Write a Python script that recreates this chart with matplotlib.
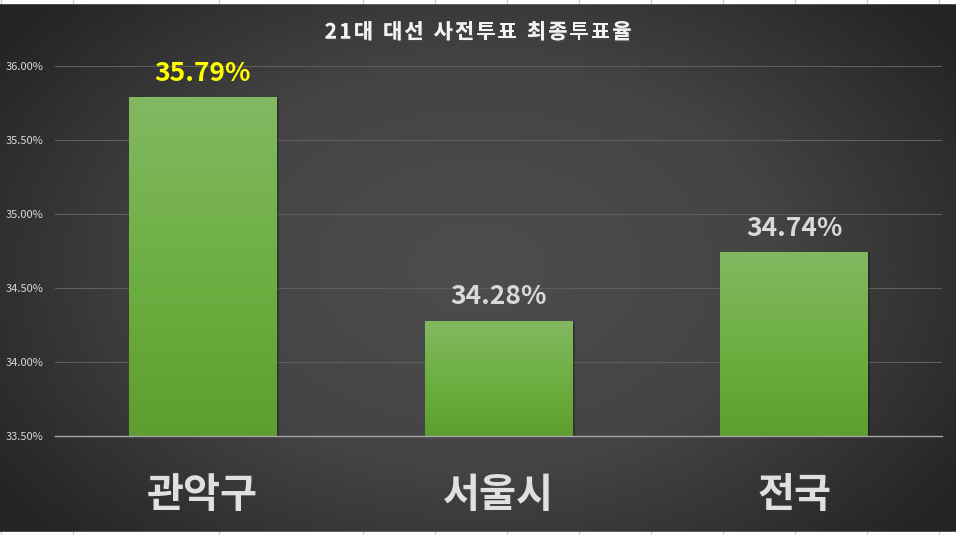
import numpy as np
import matplotlib
matplotlib.use('Agg')
import matplotlib.pyplot as plt
import matplotlib.patheffects as pe
from matplotlib.colors import LinearSegmentedColormap

plt.rcParams['font.family'] = ['Noto Sans CJK KR', 'DejaVu Sans']

# Data
categories = ['관악구', '서울시', '전국']
turnout = [35.79, 34.28, 34.74]
value_labels = ['35.79%', '34.28%', '34.74%']
label_colors = ['#ffff00', '#d9d9d9', '#d9d9d9']
y_ticks = [33.5, 34.0, 34.5, 35.0, 35.5, 36.0]
title = '21대 대선 사전투표 최종투표율'

W, H = 956, 535
fig = plt.figure(figsize=(W / 100, H / 100), dpi=100)

# radial gradient background
bg = fig.add_axes([0, 0, 1, 1])
yy, xx = np.mgrid[0:H, 0:W]
r = np.sqrt(((xx - W * 0.5) / (W * 0.62)) ** 2 + ((yy - H * 0.5) / (H * 0.75)) ** 2)
r = np.clip(r, 0, 1)
bg_cmap = LinearSegmentedColormap.from_list('bg', ['#4d4d4d', '#444444', '#232323'])
bg.imshow(r, cmap=bg_cmap, aspect='auto', extent=[0, W, H, 0], vmin=0, vmax=1)
bg.set_xlim(0, W)
bg.set_ylim(H, 0)
bg.axis('off')

# excel cell strips top and bottom
bg.add_patch(plt.Rectangle((0, 0), W, 3, color='white', zorder=3))
bg.add_patch(plt.Rectangle((0, 532), W, 3, color='white', zorder=3))
for cx in [1, 73, 219, 363, 435, 507, 579, 651, 723, 795, 867, 939]:
    bg.plot([cx, cx], [0, 3], color='#c8c8c8', lw=0.8, zorder=4)
    bg.plot([cx, cx], [532, 535], color='#c8c8c8', lw=0.8, zorder=4)

# main chart
ax = fig.add_axes([55 / W, (H - 436) / H, 887 / W, 370 / H])
ax.patch.set_alpha(0)
x = np.arange(len(categories))
bars = ax.bar(x, turnout, width=0.5, color='none', zorder=3)

green = LinearSegmentedColormap.from_list('g', ['#83b862', '#6eaf43', '#5e9e30'])
grad = np.linspace(0, 1, 256).reshape(-1, 1)
for b in bars:
    x0, w, h = b.get_x(), b.get_width(), b.get_height()
    # soft shadow
    ax.add_patch(plt.Rectangle((x0 + 0.008, 33.5), w, h - 33.5 - 0.005,
                               color='black', alpha=0.25, zorder=2, lw=0))
    im = ax.imshow(grad, cmap=green, aspect='auto',
                   extent=[x0, x0 + w, 33.5, h], zorder=3)
    im.set_clip_path(b)

ax.set_xlim(-0.5, 2.5)
ax.set_ylim(33.5, 36.0)
ax.set_yticks(y_ticks)
ax.set_yticklabels([f'{t:.2f}%' for t in y_ticks])
ax.tick_params(axis='y', length=0, pad=8, labelsize=8, labelcolor='#d9d9d9')
ax.set_xticks(x)
ax.set_xticklabels(categories)
ax.tick_params(axis='x', length=0, pad=28, labelsize=29, labelcolor='#e0e0e0')
for t in ax.get_xticklabels():
    t.set_fontweight('bold')
ax.grid(axis='y', color='#5e5e5e', lw=0.8, zorder=0)
for s in ['top', 'right', 'left']:
    ax.spines[s].set_visible(False)
ax.spines['bottom'].set_color('#a6a6a6')
ax.spines['bottom'].set_linewidth(1.0)
ax.spines['bottom'].set_zorder(4)

for xi, v, lab, c in zip(x, turnout, value_labels, label_colors):
    ax.annotate(lab, (xi, v), xytext=(0, 17), textcoords='offset points',
                ha='center', va='center', fontsize=19, fontweight='bold',
                color=c, zorder=5)

# title with letter spacing, placed char by char
renderer = fig.canvas.get_renderer()
title_kw = dict(fontsize=15, fontweight='bold', color='#f2f2f2', va='center', ha='left',
                path_effects=[pe.withSimplePatchShadow(offset=(1, -1.5), alpha=0.6), pe.Normal()])
space_px = 2.2
widths = []
for ch in title:
    t = fig.text(0, 0, ch if ch != ' ' else '대', **title_kw)
    bb = t.get_window_extent(renderer)
    widths.append(bb.width * (0.3 if ch == ' ' else 1.0))
    t.remove()
total = sum(widths) + space_px * (len(title) - 1)
cx = 478 - total / 2
for ch, wd in zip(title, widths):
    if ch != ' ':
        fig.text(cx / W, (H - 32) / H, ch, **title_kw)
    cx += wd + space_px

fig.savefig('out.png', dpi=100)
